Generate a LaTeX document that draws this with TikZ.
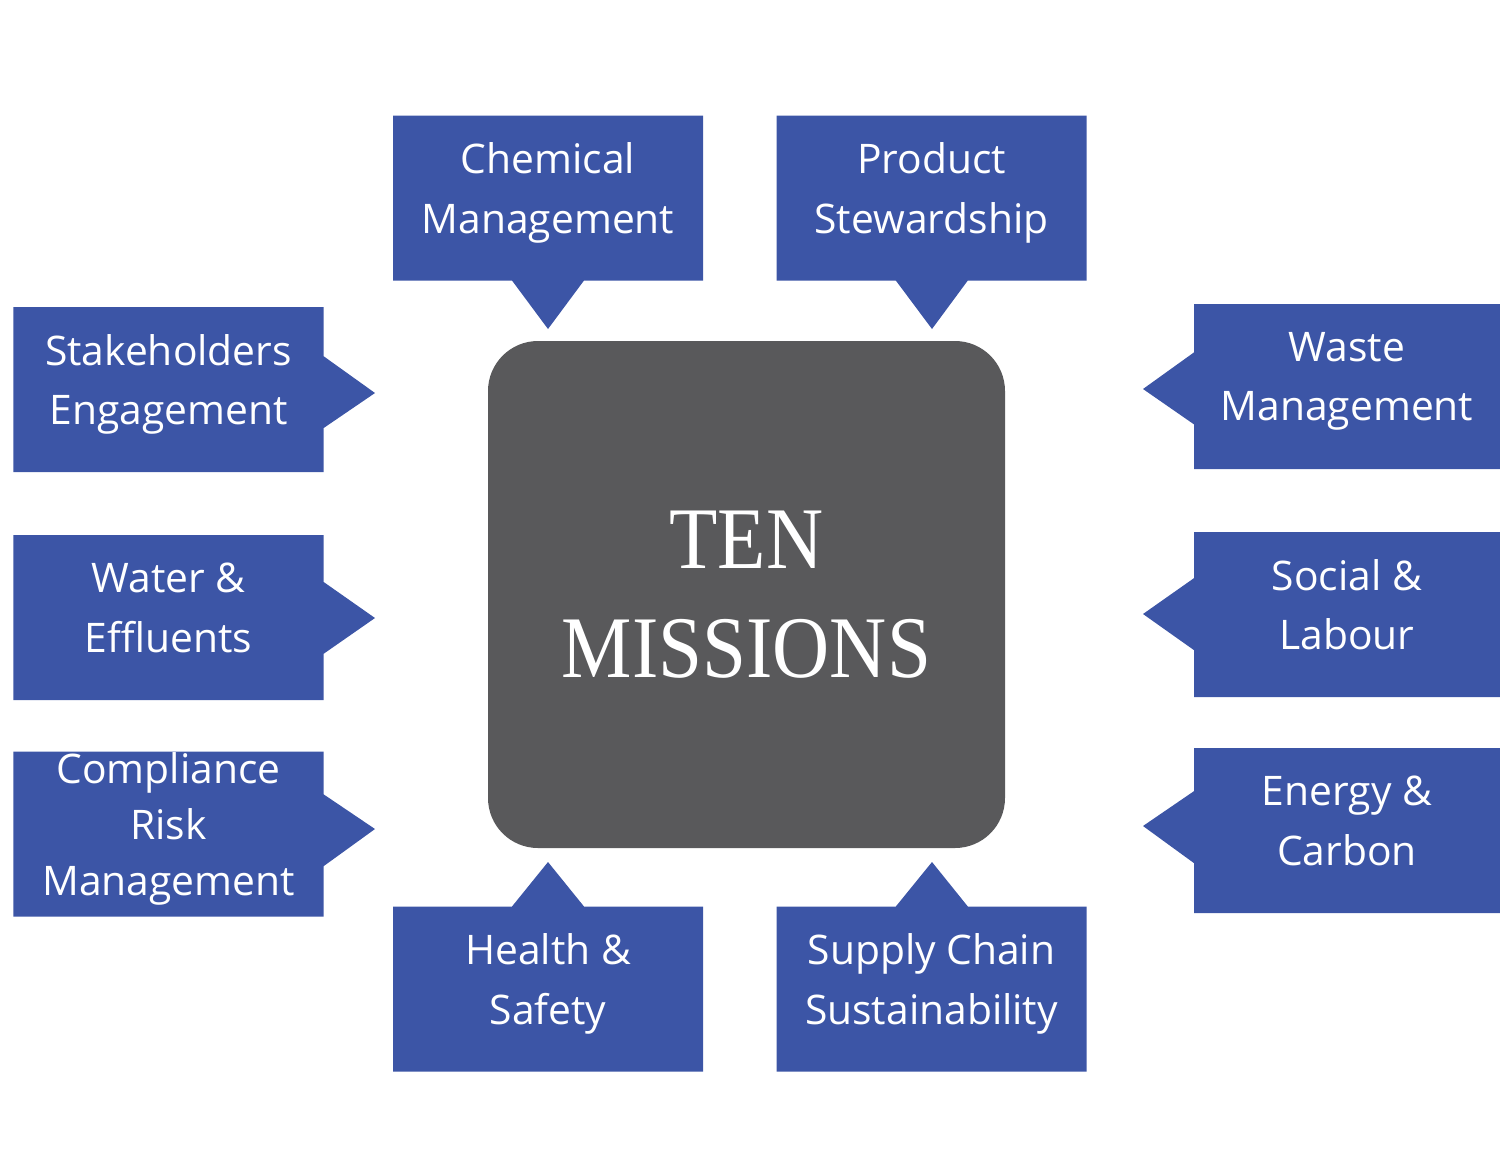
\documentclass[tikz,border=0pt]{standalone}
\usepackage{fontspec}
\setmainfont{Open Sans}
\newfontfamily\titlefont[FakeStretch=0.9]{Liberation Serif}
\usetikzlibrary{shapes.callouts}
\definecolor{missionblue}{RGB}{60,85,166}
\definecolor{missiongray}{RGB}{89,89,91}

\begin{document}
\begin{tikzpicture}[
  mission/.style={rectangle callout, fill=missionblue, text=white, align=center,
    minimum width=3.1cm, minimum height=1.65cm, inner sep=0pt, text depth=0.2cm,
    callout pointer width=0.72cm, font=\fontsize{11.6}{17}\selectfont},
  core/.style={rectangle, rounded corners=0.5cm, fill=missiongray, text=white, align=center,
    minimum width=5.17cm, minimum height=5.07cm, font=\titlefont\fontsize{25}{31}\selectfont}]
  \useasboundingbox (0,0) rectangle (15,-11.71);
  \node[core] (ten) at (7.465,-5.945) {TEN\\MISSIONS};
  % name / centre / pointer tip / text
  \foreach \name/\cx/\cy/\px/\py/\txt in {
      chem/5.48/-1.98/5.48/-3.29/{Chemical\\Management},
      prod/9.315/-1.98/9.32/-3.29/{Product\\Stewardship},
      stake/1.685/-3.895/3.75/-3.93/{Stakeholders\\Engagement},
      water/1.685/-6.175/3.75/-6.18/{Water \&\\Effluents},
      health/5.48/-9.89/5.48/-8.62/{Health \&\\Safety},
      supply/9.315/-9.89/9.32/-8.62/{Supply Chain\\Sustainability}}
    \node[mission, callout absolute pointer={(\px,\py)}] (\name) at (\cx,\cy) {\txt};
  \foreach \name/\cy/\py/\txt in {
      waste/-3.865/-3.89/{Waste\\Management},
      social/-6.145/-6.14/{Social \&\\Labour},
      energy/-8.305/-8.26/{Energy \&\\Carbon}}
    \node[mission, minimum width=3.06cm, callout absolute pointer={(11.43,\py)}] (\name) at (13.47,\cy) {\txt};
  \node[mission, callout absolute pointer={(3.75,-8.29)},
    font=\fontsize{11.6}{16}\selectfont] (comply) at (1.685,-8.34) {Compliance\\Risk\\Management};
\end{tikzpicture}
\end{document}
